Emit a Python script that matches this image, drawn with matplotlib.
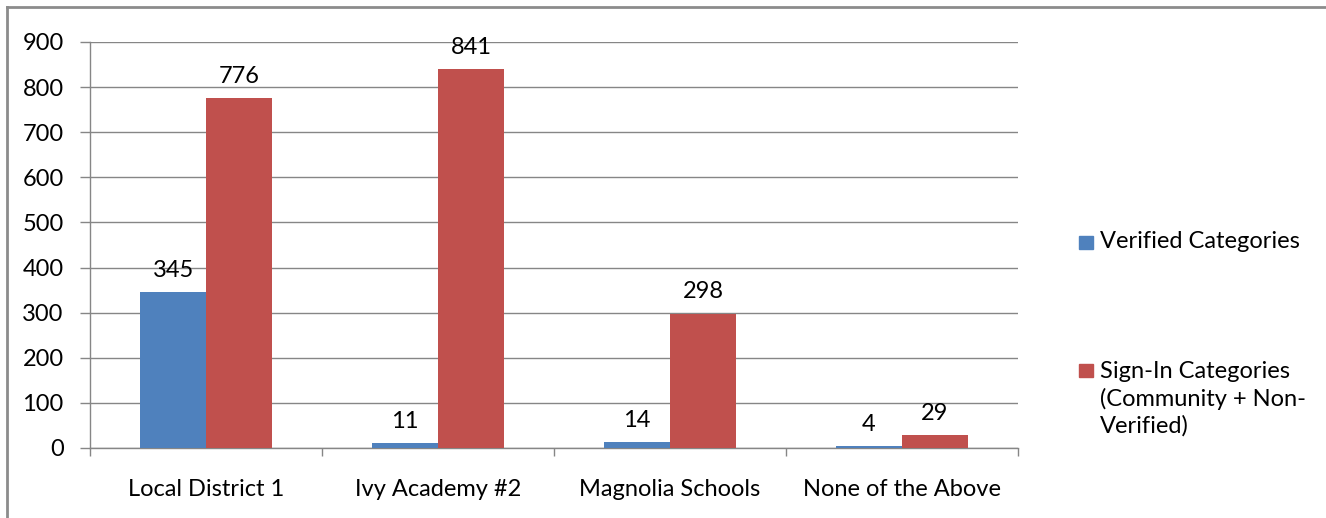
import matplotlib
matplotlib.use("Agg")
import matplotlib.pyplot as plt
import numpy as np
from matplotlib.lines import Line2D
from matplotlib.patches import Rectangle

categories = ["Local District 1", "Ivy Academy #2", "Magnolia Schools", "None of the Above"]
verified = [345, 11, 14, 4]
signin = [776, 841, 298, 29]
series_names = ["Verified Categories", "Sign-In Categories\n(Community + Non-\nVerified)"]
yticks = [0, 100, 200, 300, 400, 500, 600, 700, 800, 900]

plt.rcParams['font.family'] = ['Lato', 'DejaVu Sans']
FS = 17
blue = "#4F81BD"
red = "#C0504D"
grid_c = "#868686"

fig = plt.figure(figsize=(13.26, 5.18), dpi=100)
ax = fig.add_axes([90/1326, 1-448/518, (1018-90)/1326, (448-42)/518])

x = np.arange(len(categories))
w = 0.284
off = w/2
b1 = ax.bar(x - off, verified, w, color=blue, zorder=3, label=series_names[0])
b2 = ax.bar(x + off, signin, w, color=red, zorder=3, label=series_names[1])

for rects, vals in ((b1, verified), (b2, signin)):
    for r, v in zip(rects, vals):
        ax.annotate(str(v), (r.get_x() + r.get_width()/2, v), xytext=(0, 8),
                    textcoords="offset points", ha="center", va="bottom", fontsize=FS, zorder=4)

ax.set_xlim(-0.5, len(categories) - 0.5)
ax.set_ylim(0, 900)
ax.set_yticks(yticks)
ax.set_yticklabels([str(t) for t in yticks], fontsize=FS)
ax.yaxis.grid(True, color=grid_c, linewidth=1.0, zorder=0)
ax.set_axisbelow(True)

ax.set_xticks(np.arange(-0.5, len(categories), 1.0))
ax.set_xticklabels([])
ax.set_xticks(x, minor=True)
ax.set_xticklabels(categories, minor=True, fontsize=FS)
ax.tick_params(axis='x', which='minor', length=0, pad=22)
ax.tick_params(axis='x', which='major', length=6, color=grid_c, width=1.0)
ax.tick_params(axis='y', length=7, color=grid_c, width=1.0, pad=12)

for s in ("top", "right"):
    ax.spines[s].set_visible(False)
for s in ("left", "bottom"):
    ax.spines[s].set_color(grid_c)
    ax.spines[s].set_linewidth(1.0)

# legend (manual placement to mimic layout)
fig.text(1100/1326, 1-242/518, series_names[0], fontsize=FS, va="center", ha="left")
fig.text(1100/1326, 1-361/518, series_names[1], fontsize=FS, va="top", ha="left",
         linespacing=1.32)
fig.patches.append(Rectangle((1079/1326, 1-249/518), 14/1326, 13/518, transform=fig.transFigure,
                             color=blue, figure=fig))
fig.patches.append(Rectangle((1079/1326, 1-377/518), 14/1326, 13/518, transform=fig.transFigure,
                             color=red, figure=fig))

# outer chart border
fig.add_artist(Line2D([7/1326, 1], [1-7/518, 1-7/518], transform=fig.transFigure, color="#8c8c8c", linewidth=2))
fig.add_artist(Line2D([7/1326, 7/1326], [0, 1-7/518], transform=fig.transFigure, color="#8c8c8c", linewidth=2))

fig.savefig("out.png", dpi=100)
